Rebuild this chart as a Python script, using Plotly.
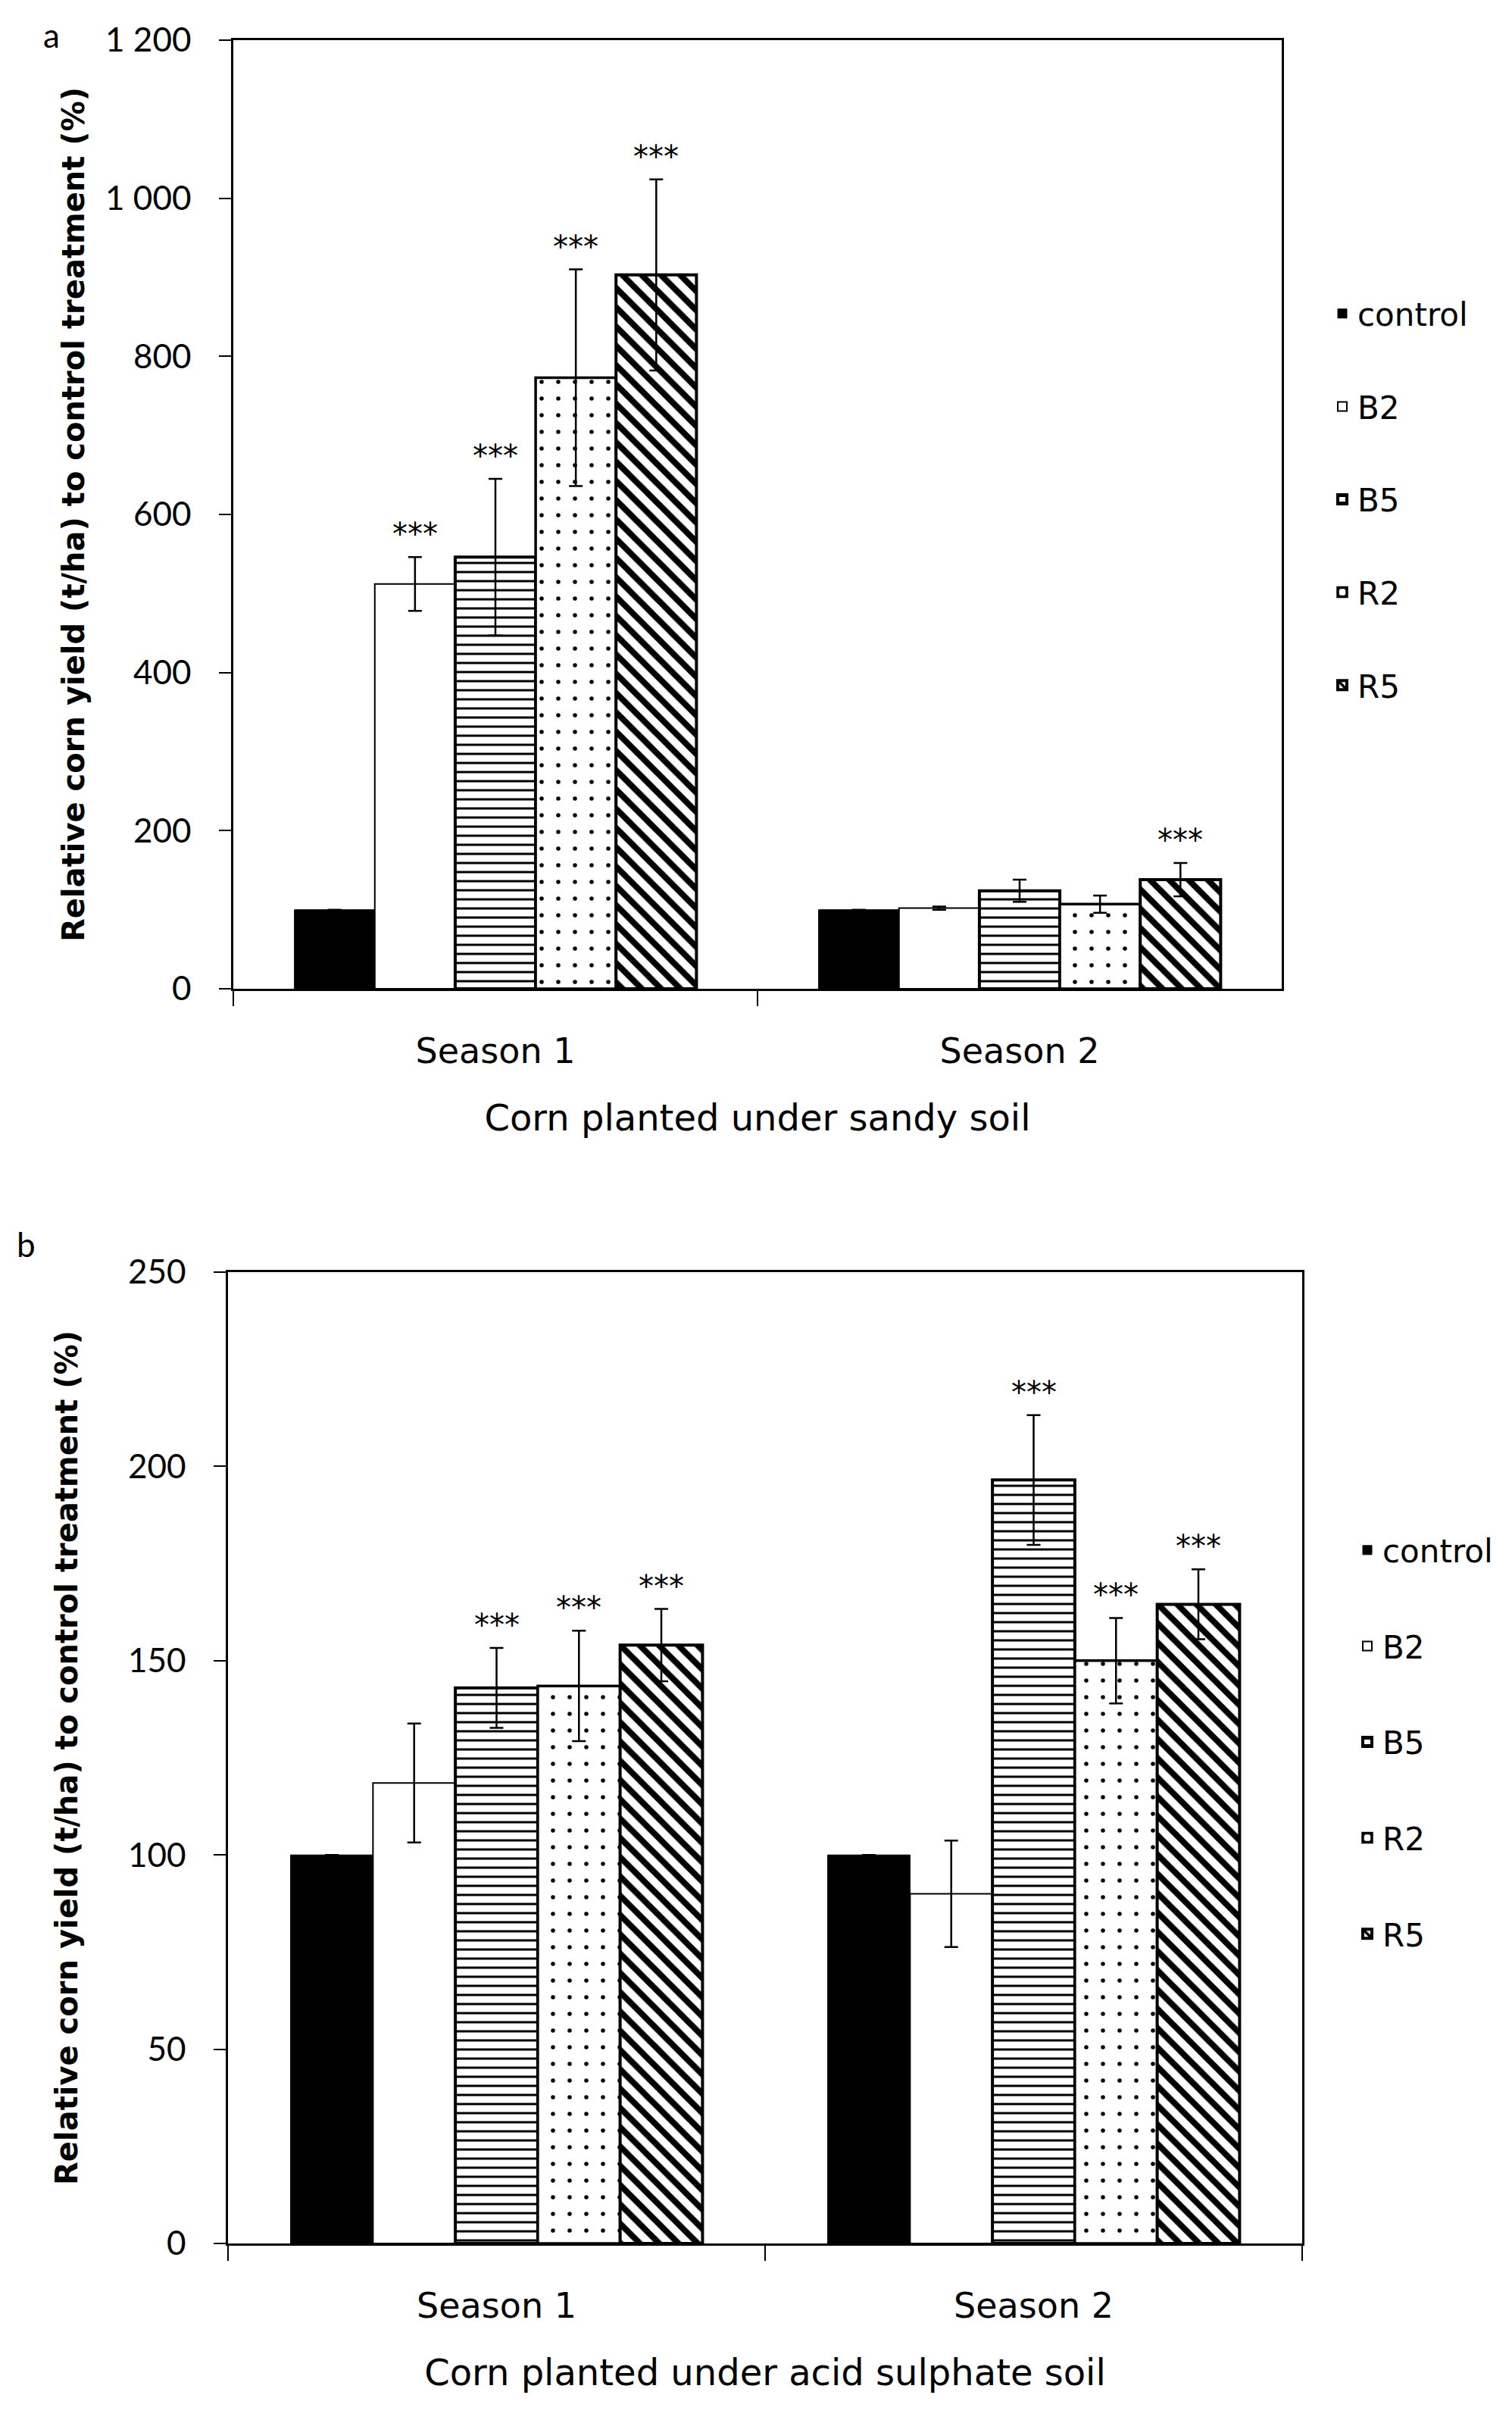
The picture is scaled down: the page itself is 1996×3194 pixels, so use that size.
import plotly.graph_objects as go

# categories
treatments = ["control", "B2", "B5", "R2", "R5"]
seasons = ["Season 1", "Season 2"]

# panel a - corn under sandy soil, relative yield (%), [season 1, season 2]
sandy_control = [100, 100]
sandy_b2 = [512, 102]
sandy_b5 = [546, 124]
sandy_r2 = [773, 107]
sandy_r5 = [903, 138]
sandy_err_control = [0, 0]
sandy_err_b2 = [34, 2]
sandy_err_b5 = [99, 14]
sandy_err_r2 = [137, 11]
sandy_err_r5 = [121, 21]
sandy_stars_s1 = ["", "***", "***", "***", "***"]
sandy_stars_s2 = ["", "", "", "", "***"]

# panel b - corn under acid sulphate soil
acid_control = [100, 100]
acid_b2 = [118.5, 90]
acid_b5 = [143, 196.5]
acid_r2 = [143.5, 150]
acid_r5 = [154, 164.5]
acid_err_control = [0, 0]
acid_err_b2 = [15.3, 13.7]
acid_err_b5 = [10.3, 16.7]
acid_err_r2 = [14.2, 11]
acid_err_r5 = [9.3, 9]
acid_stars_s1 = ["", "", "***", "***", "***"]
acid_stars_s2 = ["", "", "***", "***", "***"]

sandy_ticks = [0, 200, 400, 600, 800, 1000, 1200]
acid_ticks = [0, 50, 100, 150, 200, 250]

W, H = 1996, 3194
BARGAP = 0.233

# fill style of each treatment
styles = {
    "control": dict(color="black", line=dict(color="black", width=1)),
    "B2": dict(color="white", line=dict(color="black", width=2)),
    "B5": dict(color="white", line=dict(color="black", width=4),
               pattern=dict(shape="-", fgcolor="black", bgcolor="white",
                            size=12, solidity=0.25, fillmode="replace")),
    "R2": dict(color="white", line=dict(color="black", width=3.5),
               pattern=dict(shape=".", fgcolor="black", bgcolor="white",
                            size=22, solidity=0.05, fillmode="replace")),
    "R5": dict(color="white", line=dict(color="black", width=4),
               pattern=dict(shape="\\", fgcolor="black", bgcolor="white",
                            size=18, solidity=0.45, fillmode="replace")),
}

panels = [
    dict(means=[sandy_control, sandy_b2, sandy_b5, sandy_r2, sandy_r5],
         errs=[sandy_err_control, sandy_err_b2, sandy_err_b5, sandy_err_r2, sandy_err_r5],
         stars=[sandy_stars_s1, sandy_stars_s2],
         x="x", y="y", legend="legend"),
    dict(means=[acid_control, acid_b2, acid_b5, acid_r2, acid_r5],
         errs=[acid_err_control, acid_err_b2, acid_err_b5, acid_err_r2, acid_err_r5],
         stars=[acid_stars_s1, acid_stars_s2],
         x="x2", y="y2", legend="legend2"),
]

fig = go.Figure()
for p_i, p in enumerate(panels):
    for j, name in enumerate(treatments):
        fig.add_trace(go.Bar(
            x=seasons, y=p["means"][j], name=name,
            marker=styles[name],
            error_y=dict(type="data", array=p["errs"][j], visible=True,
                         color="black", thickness=2.5, width=9),
            xaxis=p["x"], yaxis=p["y"], legend=p["legend"],
            legendgroup=f"{p_i}_{name}",
        ))

# significance stars above the error bars
annotations = []
group_w = 1 - BARGAP
for p in panels:
    for s_i in range(len(seasons)):
        for j in range(len(treatments)):
            label = p["stars"][s_i][j]
            if not label:
                continue
            xpos = s_i - group_w / 2 + (j + 0.5) * group_w / len(treatments)
            ytop = p["means"][j][s_i] + p["errs"][j][s_i]
            annotations.append(dict(
                x=xpos, y=ytop, xref=p["x"], yref=p["y"], text=label,
                showarrow=False, yanchor="middle", yshift=30,
                font=dict(family="DejaVu Sans", size=40, color="black"),
            ))

annotations.append(dict(x=60 / W, y=1 - 38 / H, xref="paper", yref="paper",
                        text="a", showarrow=False, xanchor="center", yanchor="middle",
                        font=dict(family="Lato", size=44, color="black")))
annotations.append(dict(x=26 / W, y=1 - 1634 / H, xref="paper", yref="paper",
                        text="b", showarrow=False, xanchor="center", yanchor="middle",
                        font=dict(family="Lato", size=44, color="black")))

ytitle = "Relative corn yield (t/ha) to control treatment (%)"
axis_common = dict(showline=True, linecolor="black", linewidth=2.5, mirror=True,
                   ticks="outside", tickcolor="black", tickwidth=2,
                   showgrid=False, zeroline=False, automargin=False)


def xaxis_cfg(domain, anchor, title):
    return dict(axis_common, domain=domain, anchor=anchor, type="category",
                tickson="boundaries", ticklen=20, ticklabelstandoff=40,
                tickfont=dict(family="DejaVu Sans", size=46, color="black"),
                title=dict(text=title, standoff=46,
                           font=dict(family="DejaVu Sans", size=48, color="black")))


def yaxis_cfg(domain, anchor, rng, ticks, standoff):
    return dict(axis_common, domain=domain, anchor=anchor, range=rng,
                tickvals=ticks, ticklen=16, ticklabelstandoff=28,
                separatethousands=True,
                tickfont=dict(family="Lato", size=44, color="black"),
                title=dict(text=f"<b>{ytitle}</b>", standoff=standoff,
                           font=dict(family="DejaVu Sans", size=40, color="black")))


fig.update_layout(
    width=W, height=H,
    margin=dict(l=0, r=0, t=0, b=0, autoexpand=False),
    paper_bgcolor="white", plot_bgcolor="white",
    separators=". ",
    barmode="group", bargap=BARGAP, bargroupgap=0,
    xaxis=xaxis_cfg([300 / W, 1684 / W], "y", "Corn planted under sandy soil"),
    yaxis=yaxis_cfg([1 - 1297 / H, 1 - 45 / H], "x", [0, 1200], sandy_ticks, 16),
    xaxis2=xaxis_cfg([293 / W, 1711 / W], "y2", "Corn planted under acid sulphate soil"),
    yaxis2=yaxis_cfg([1 - 2953 / H, 1 - 1671 / H], "x2", [0, 250], acid_ticks, 54),
    legend=dict(x=1744 / W, y=1 - 372 / H, xanchor="left", yanchor="top",
                traceorder="grouped", tracegroupgap=65, bgcolor="rgba(0,0,0,0)",
                font=dict(family="DejaVu Sans", size=42, color="black")),
    legend2=dict(x=1777 / W, y=1 - 2004 / H, xanchor="left", yanchor="top",
                 traceorder="grouped", tracegroupgap=69, bgcolor="rgba(0,0,0,0)",
                 font=dict(family="DejaVu Sans", size=42, color="black")),
    annotations=annotations,
    showlegend=True,
)

fig.write_html("out.html")
